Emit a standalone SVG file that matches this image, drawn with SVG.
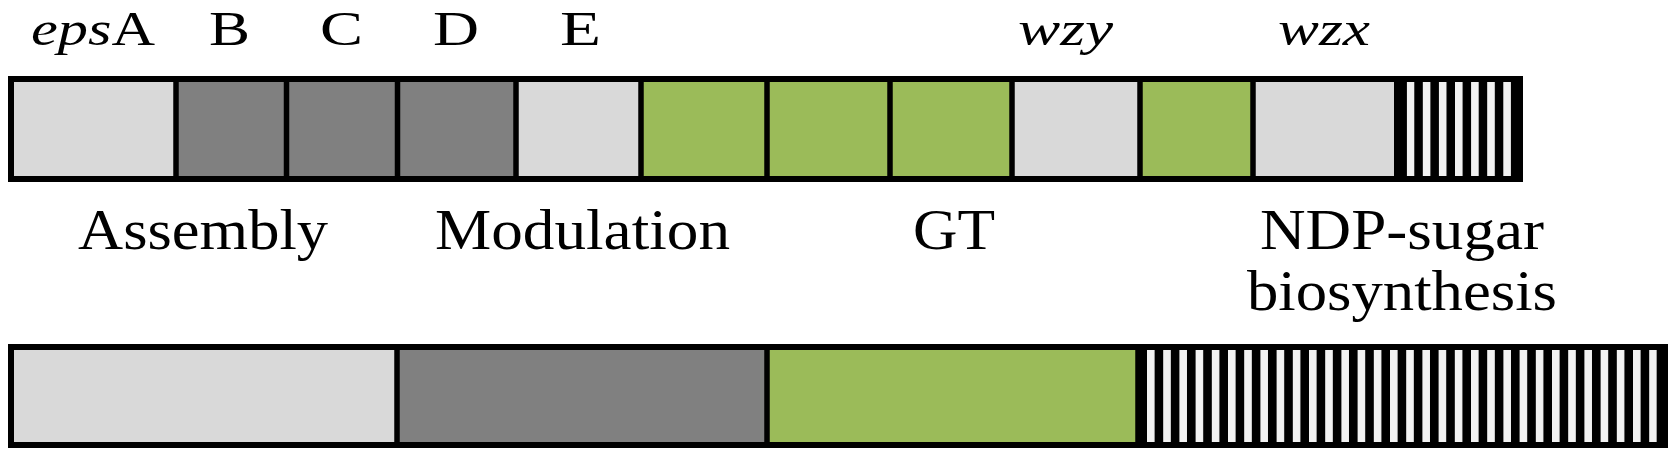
<svg xmlns="http://www.w3.org/2000/svg" width="1677" height="456" viewBox="0 0 1677 456">
  <style>
    .lbl { font-family: "Liberation Serif", "Times New Roman", serif; font-size: 58px; fill: #000; }
    .top { font-size: 48px; }
    .it { font-style: italic; }
    .light { fill: #d9d9d9; }
    .dark { fill: #808080; }
    .green { fill: #9bbb59; }
    .blk { fill: #000; }
    .div { stroke: #000; stroke-width: 5.5; }
    .frame { fill: none; stroke: #000; stroke-width: 6; }
  </style>
  <defs>
    <pattern id="stripesTop" patternUnits="userSpaceOnUse" x="1406.7" y="0" width="16.1" height="10">
      <rect x="0" y="0" width="7.6" height="10" fill="#f2f2f2"/>
    </pattern>
    <pattern id="stripesBot" patternUnits="userSpaceOnUse" x="1147" y="0" width="16.2" height="10">
      <rect x="0" y="0" width="7.6" height="10" fill="#f2f2f2"/>
    </pattern>
  </defs>
  <rect width="1677" height="456" fill="#fff"/>

  <g id="gene-labels">
    <text class="lbl top" x="31" y="45" textLength="124" lengthAdjust="spacingAndGlyphs"><tspan class="it">eps</tspan>A</text>
    <text class="lbl top" x="209" y="45" textLength="41" lengthAdjust="spacingAndGlyphs">B</text>
    <text class="lbl top" x="320" y="45" textLength="43" lengthAdjust="spacingAndGlyphs">C</text>
    <text class="lbl top" x="433" y="45" textLength="46" lengthAdjust="spacingAndGlyphs">D</text>
    <text class="lbl top" x="560" y="45" textLength="41" lengthAdjust="spacingAndGlyphs">E</text>
    <text class="lbl top it" x="1018" y="45" textLength="95" lengthAdjust="spacingAndGlyphs">wzy</text>
    <text class="lbl top it" x="1278" y="45" textLength="92" lengthAdjust="spacingAndGlyphs">wzx</text>
  </g>

  <g id="gene-cluster">
    <g id="epsA"><rect class="light" x="14" y="82" width="162" height="94"/></g>
    <g id="epsB"><rect class="dark" x="176" y="82" width="110.5" height="94"/></g>
    <g id="epsC"><rect class="dark" x="286.5" y="82" width="111" height="94"/></g>
    <g id="epsD"><rect class="dark" x="397.5" y="82" width="118.5" height="94"/></g>
    <g id="epsE"><rect class="light" x="516" y="82" width="125" height="94"/></g>
    <g id="gt1"><rect class="green" x="641" y="82" width="126" height="94"/></g>
    <g id="gt2"><rect class="green" x="767" y="82" width="123" height="94"/></g>
    <g id="gt3"><rect class="green" x="890" y="82" width="122" height="94"/></g>
    <g id="wzy"><rect class="light" x="1012" y="82" width="128" height="94"/></g>
    <g id="gt4"><rect class="green" x="1140" y="82" width="113" height="94"/></g>
    <g id="wzx"><rect class="light" x="1253" y="82" width="141" height="94"/></g>
    <g id="ndp-top">
      <rect class="blk" x="1394" y="82" width="123" height="94"/>
      <rect fill="url(#stripesTop)" x="1406.7" y="82" width="104.4" height="94"/>
    </g>
    <g id="top-dividers">
      <line class="div" x1="176" y1="79" x2="176" y2="179"/>
      <line class="div" x1="286.5" y1="79" x2="286.5" y2="179"/>
      <line class="div" x1="397.5" y1="79" x2="397.5" y2="179"/>
      <line class="div" x1="516" y1="79" x2="516" y2="179"/>
      <line class="div" x1="641" y1="79" x2="641" y2="179"/>
      <line class="div" x1="767" y1="79" x2="767" y2="179"/>
      <line class="div" x1="890" y1="79" x2="890" y2="179"/>
      <line class="div" x1="1012" y1="79" x2="1012" y2="179"/>
      <line class="div" x1="1140" y1="79" x2="1140" y2="179"/>
      <line class="div" x1="1253" y1="79" x2="1253" y2="179"/>
    </g>
    <rect class="frame" x="11" y="79" width="1509" height="100"/>
  </g>

  <g id="function-labels">
    <text class="lbl" x="78" y="249" textLength="250" lengthAdjust="spacingAndGlyphs">Assembly</text>
    <text class="lbl" x="435" y="249" textLength="295" lengthAdjust="spacingAndGlyphs">Modulation</text>
    <text class="lbl" x="913" y="249" textLength="82" lengthAdjust="spacingAndGlyphs">GT</text>
    <text class="lbl" x="1260" y="249" textLength="284" lengthAdjust="spacingAndGlyphs">NDP-sugar</text>
    <text class="lbl" x="1247" y="310" textLength="310" lengthAdjust="spacingAndGlyphs">biosynthesis</text>
  </g>

  <g id="function-bar">
    <g id="assembly"><rect class="light" x="14" y="350" width="383" height="92"/></g>
    <g id="modulation"><rect class="dark" x="397" y="350" width="370" height="92"/></g>
    <g id="gt"><rect class="green" x="767" y="350" width="371" height="92"/></g>
    <g id="ndp-sugar">
      <rect class="blk" x="1138" y="350" width="527" height="92"/>
      <rect fill="url(#stripesBot)" x="1147" y="350" width="509.8" height="92"/>
    </g>
    <g id="bottom-dividers">
      <line class="div" x1="397" y1="347" x2="397" y2="445"/>
      <line class="div" x1="767" y1="347" x2="767" y2="445"/>
      <line class="div" x1="1138" y1="347" x2="1138" y2="445"/>
    </g>
    <rect class="frame" x="11" y="347" width="1654" height="98"/>
  </g>
</svg>
